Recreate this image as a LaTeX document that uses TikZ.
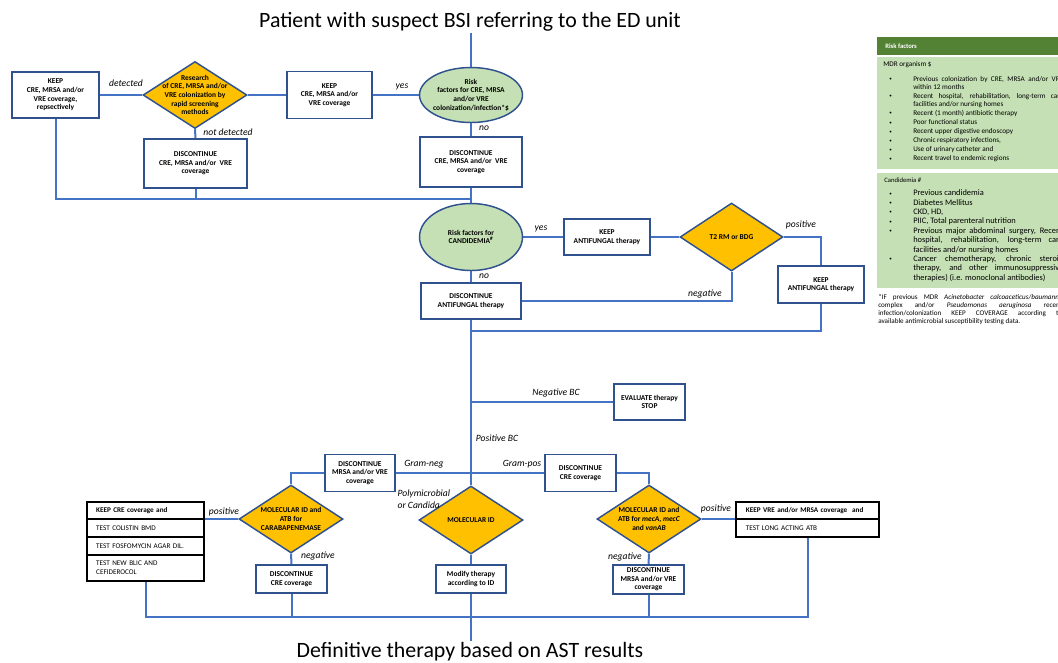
\documentclass[tikz,border=0pt]{standalone}
\usepackage{fontspec}
\setmainfont{Carlito}
\usetikzlibrary{shapes.geometric,backgrounds}

\definecolor{lineblue}{HTML}{4472C4}
\definecolor{edgeblue}{HTML}{2F528F}
\definecolor{gold}{HTML}{FFC000}
\definecolor{paleGreen}{HTML}{C5E0B4}
\definecolor{darkGreen}{HTML}{548235}

\newcommand{\flowfont}{\bfseries\fontsize{5.6}{6.5}\selectfont}
\newcommand{\branchfont}{\itshape\fontsize{7.2}{8.6}\selectfont}
\newcommand{\stackfont}{\fontsize{5.4}{6.5}\selectfont}
\newcommand{\bigfont}{\fontsize{16.4}{19}\selectfont}
\newcommand{\rfbullet}{\par\hangindent=18pt\hangafter=1\noindent\makebox[18pt][l]{\raisebox{0.4pt}{\fontsize{3.8}{4}\selectfont\textbullet}}}

\tikzset{
  sz/.style 2 args={minimum width=#1*0.75pt, minimum height=#2*0.75pt},
  conn/.style={draw=lineblue, line width=1.5pt},
  flowbox/.style={rectangle, draw=edgeblue, line width=1.1pt, fill=white, align=center, inner sep=0pt, font=\flowfont},
  decision/.style={diamond, draw=edgeblue, line width=1.1pt, fill=gold, inner sep=0pt},
  riskell/.style={ellipse, draw=edgeblue, line width=1.1pt, fill=paleGreen, inner sep=0pt},
  shapetext/.style={align=center, inner sep=0pt, font=\flowfont},
  branch/.style={inner sep=1pt, font=\branchfont},
  stackrow/.style={rectangle, draw=black, line width=2.1pt, fill=white, align=left, inner ysep=0pt, font=\stackfont},
  hrow/.style={stackrow, text width=74pt, inner xsep=6.9pt},
  lrow/.style={stackrow, text width=92.5pt, inner xsep=7.4pt},
  bigtitle/.style={inner sep=1pt, font=\bigfont}
}

\begin{document}
\begin{tikzpicture}[x=0.75pt,y=-0.75pt]
\useasboundingbox (0,0) rectangle (1058,662);

% screening of MDR colonization
\node[bigtitle] (ttl) at (470,22) {Patient with suspect BSI referring to the ED unit};
\node[riskell, sz={103}{55}] (rf1) at (471,95) {};
\node[shapetext] (rf1t) at (rf1) {Risk\\factors for CRE, MRSA\\and/or VRE\\colonization/infection*\$};
\node[flowbox, sz={85}{47}] (keep1) at (329.5,95) {KEEP\\CRE, MRSA and/or\\VRE coverage};
\node[decision, sz={104}{67}] (scr) at (195,95) {};
\node[shapetext] (scrt) at (scr) {Research\\of CRE, MRSA and/or\\VRE colonization by\\rapid screening\\methods};
\node[flowbox, sz={87}{46}] (keep0) at (55.5,95) {KEEP\\CRE, MRSA and/or\\VRE coverage,\\repsectively};
\node[flowbox, sz={103}{49}] (disA) at (195.5,163.5) {DISCONTINUE\\CRE, MRSA and/or\ \ VRE\\coverage};
\node[flowbox, sz={102}{50}] (disB) at (471,162) {DISCONTINUE\\CRE, MRSA and/or\ \ VRE\\coverage};
\coordinate (m1) at (471,199);

% candidemia
\node[riskell, sz={103}{67}] (rf2) at (471,237) {};
\node[shapetext] (rf2t) at (rf2) {Risk factors for\\CANDIDEMIA\textsuperscript{\#}};
\node[flowbox, sz={86}{36}] (keepC) at (607,237) {KEEP\\ANTIFUNGAL therapy};
\node[decision, sz={103}{68}] (t2) at (731.5,237) {};
\node[shapetext] (t2t) at (t2) {T2 RM or BDG};
\node[flowbox, sz={86}{37}] (keepD) at (821,284.5) {KEEP\\ANTIFUNGAL therapy};
\node[flowbox, sz={100}{36}] (disE) at (471,301) {DISCONTINUE\\ANTIFUNGAL therapy};
\coordinate (m2) at (471,331);

% blood cultures
\coordinate (m3) at (471,402);
\node[flowbox, sz={71}{36}] (eval) at (649.5,402) {EVALUATE therapy\\STOP};
\coordinate (m4) at (471,473);
\node[flowbox, sz={70}{37}] (disF) at (360,473) {DISCONTINUE\\MRSA and/or VRE\\coverage};
\node[flowbox, sz={71}{37}] (disG) at (580.5,473) {DISCONTINUE\\CRE coverage};

% molecular tests
\node[decision, sz={104}{68}] (mol1) at (291,519) {};
\node[shapetext] (mol1t) at (mol1) {MOLECULAR ID and\\ATB for\\CARABAPENEMASE};
\node[decision, sz={104}{68}] (mol2) at (471,520) {};
\node[shapetext] (mol2t) at (mol2) {MOLECULAR ID};
\node[decision, sz={104}{68}] (mol3) at (649,519) {};
\node[shapetext] (mol3t) at (mol3) {MOLECULAR ID and\\ATB for \textit{mecA}, \textit{mecC}\\and \textit{vanAB}};

\node[hrow, sz={117}{17}, font=\bfseries\stackfont] (h1) at (145.5,510.5) {KEEP CRE coverage and};
\node[hrow, sz={117}{18}] (h2) at (145.5,528) {TEST COLISTIN BMD};
\node[hrow, sz={117}{18}] (h3) at (145.5,546) {TEST FOSFOMYCIN AGAR DIL.};
\node[hrow, sz={117}{26}] (h4) at (145.5,568) {TEST NEW BLIC AND\\CEFIDEROCOL};
\node[lrow, sz={143}{17}, font=\bfseries\stackfont] (l1) at (807.5,510.5) {KEEP VRE and/or MRSA coverage\ \ and};
\node[lrow, sz={143}{18}] (l2) at (807.5,528) {TEST LONG ACTING ATB};

\node[flowbox, sz={71}{28}] (disI) at (291.5,579) {DISCONTINUE\\CRE coverage};
\node[flowbox, sz={70}{28}] (modJ) at (471,579) {Modify therapy\\according to ID};
\node[flowbox, sz={71}{29}] (disK) at (648.5,579.5) {DISCONTINUE\\MRSA and/or VRE\\coverage};
\coordinate (m5) at (471,617);
\node[bigtitle] (fin) at (470,652) {Definitive therapy based on AST results};

% branch labels
\node[branch] (lbdet) at (126,83) {detected};
\node[branch] (lbnotdet) at (228,132) {not detected};
\node[branch] (lbyes1) at (402,87) {yes};
\node[branch] (lbno1) at (484,128) {no};
\node[branch] (lbyes2) at (541,229) {yes};
\node[branch] (lbno2) at (484,276) {no};
\node[branch] (lbpos1) at (801,225) {positive};
\node[branch] (lbneg1) at (705,294) {negative};
\node[branch] (lbnegbc) at (556,393) {Negative BC};
\node[branch] (lbposbc) at (497,438) {Positive BC};
\node[branch] (lbgneg) at (424,464) {Gram-neg};
\node[branch] (lbgpos) at (522,464) {Gram-pos};
\node[branch, align=left, anchor=west] (lbpoly) at (396,499) {Polymicrobial\\or Candida};
\node[branch] (lbpos2) at (224,512) {positive};
\node[branch] (lbneg2) at (318,556) {negative};
\node[branch] (lbpos3) at (716,509) {positive};
\node[branch] (lbneg3) at (625,557) {negative};

% connectors
\begin{scope}[on background layer]
\draw[conn] (rf1.north |- ttl.south) -- (rf1.north);
\draw[conn] (rf1.west) -- (keep1.east);
\draw[conn] (keep1.west) -- (scr.east);
\draw[conn] (scr.west) -- (keep0.east);
\draw[conn] (scr.south) -- (disA.north);
\draw[conn] (rf1.south) -- (disB.north);
\draw[conn] (keep0.south) |- (m1);
\draw[conn] (disA.south) -- (disA.south |- m1);
\draw[conn] (disB.south) -- (rf2.north);
\draw[conn] (rf2.east) -- (keepC.west);
\draw[conn] (keepC.east) -- (t2.west);
\draw[conn] (t2.east) -| (keepD.north);
\draw[conn] (t2.south) |- (disE.east);
\draw[conn] (rf2.south) -- (disE.north);
\draw[conn] (keepD.south) |- (m2);
\draw[conn] (disE.south) -- (mol2.north);
\draw[conn] (m3) -- (eval.west);
\draw[conn] (m4) -- (disF.east);
\draw[conn] (m4) -- (disG.west);
\draw[conn] (disF.west) -| (mol1.north);
\draw[conn] (disG.east) -| (mol3.north);
\draw[conn] (mol1.west) -- (mol1.west -| h1.east);
\draw[conn] (mol3.east) -- (mol3.east -| l1.west);
\draw[conn] (mol1.south) -- (disI.north);
\draw[conn] (mol2.south) -- (modJ.north);
\draw[conn] (mol3.south) -- (disK.north);
\draw[conn] (h4.south) |- (m5);
\draw[conn] (l2.south) |- (m5);
\draw[conn] (disI.south) -- (disI.south |- m5);
\draw[conn] (disK.south) -- (disK.south |- m5);
\draw[conn] (modJ.south) -- (modJ.south |- fin.north);
\end{scope}

% risk factor panel
\begin{scope}
\clip (870,30) rectangle (1058,340);
\fill[darkGreen] (877,37) rectangle (1070,55);
\node[anchor=west, inner sep=0pt, text=white, font=\bfseries\fontsize{5}{6}\selectfont] (rfhead) at (885,46) {Risk factors};
\fill[paleGreen] (877,57) rectangle (1070,169);
\node[anchor=west, inner sep=0pt, font=\fontsize{5.4}{6}\selectfont] (mdrhead) at (883,65) {MDR organism \$};
\node[anchor=north west, inner sep=0pt, text width=130.5pt, align=justify, font=\fontsize{5.4}{6}\selectfont] (mdrlist) at (889,72) {\setlength{\parskip}{0.8pt}%
\rfbullet Previous colonization by CRE, MRSA and/or VRE\linebreak within 12 months
\rfbullet Recent hospital, rehabilitation, long-term care\linebreak facilities and/or nursing homes
\rfbullet Recent (1 month) antibiotic therapy
\rfbullet Poor functional status
\rfbullet Recent upper digestive endoscopy
\rfbullet Chronic respiratory infections,
\rfbullet Use of urinary catheter and
\rfbullet Recent travel to endemic regions\par};
\fill[paleGreen] (877,173) rectangle (1070,288);
\node[anchor=west, inner sep=0pt, font=\fontsize{5}{6}\selectfont] (candhead) at (884,180) {Candidemia \#};
\node[anchor=north west, inner sep=0pt, text width=130.5pt, align=justify, font=\fontsize{6.3}{7.05}\selectfont] (candlist) at (889,186) {%
\rfbullet Previous candidemia
\rfbullet Diabetes Mellitus
\rfbullet CKD, HD,
\rfbullet PIIC, Total parenteral nutrition
\rfbullet Previous major abdominal surgery, Recent\linebreak hospital, rehabilitation, long-term care\linebreak facilities and/or nursing homes
\rfbullet Cancer chemotherapy, chronic steroid\linebreak therapy, and other immunosuppressive\linebreak therapies) (i.e. monoclonal antibodies)\par};
\node[anchor=north west, inner sep=0pt, text width=138pt, align=justify, font=\fontsize{5.35}{6}\selectfont] (fnote) at (878,294) {*IF previous MDR \textit{Acinetobacter calcoaceticus/baumannii}\linebreak complex and/or \textit{Pseudomonas aeruginosa} recent\linebreak infection/colonization KEEP COVERAGE according to\linebreak available antimicrobial susceptibility testing data.\par};
\end{scope}
\end{tikzpicture}
\end{document}
